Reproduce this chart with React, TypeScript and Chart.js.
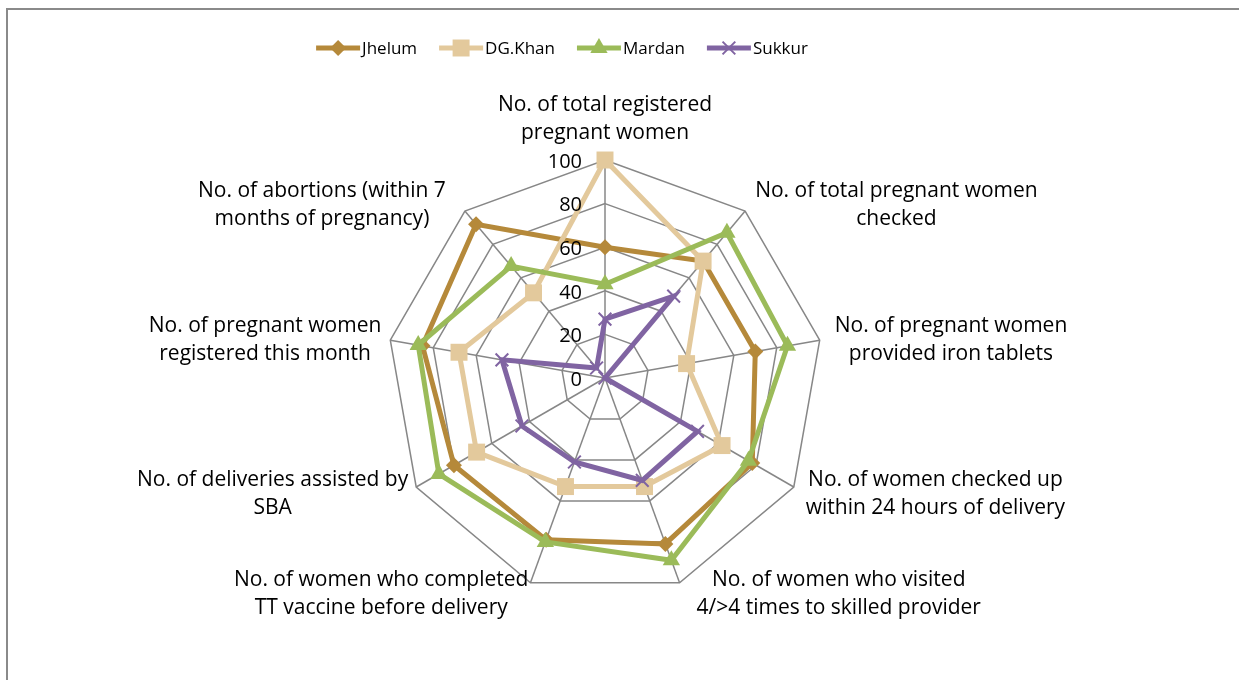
import React, { useEffect, useRef } from "react";
import { Chart, registerables } from "chart.js";

Chart.register(...registerables);

const categories: string[][] = [
  ["No. of total registered", "pregnant women"],
  ["No. of total pregnant women", "checked"],
  ["No. of pregnant women", "provided iron tablets"],
  ["No. of women checked up", "within 24 hours of delivery"],
  ["No. of women who visited", "4/>4 times to skilled provider"],
  ["No. of women who completed", "TT vaccine before delivery"],
  ["No. of deliveries assisted by", "SBA"],
  ["No. of pregnant women", "registered this month"],
  ["No. of abortions (within 7", "months of pregnancy)"],
];

const jhelum = [60, 70, 70, 78, 81, 79, 80, 85, 92];
const dgKhan = [100, 70, 38, 62, 53, 53, 68, 68, 51];
const mardan = [43, 87, 85, 76, 89, 80, 88, 87, 67];
const sukkur = [27, 49, 0, 49, 50, 41, 44, 48, 6];

const seriesNames = ["Jhelum", "DG.Khan", "Mardan", "Sukkur"];
const tickValues = [0, 20, 40, 60, 80, 100];

const colors = ["#B5893A", "#E3C99C", "#9BBB59", "#8064A2"];
const markers = ["rectRot", "rect", "triangle", "crossRot"];
const markerRadius = [8, 12, 10, 9];
// horizontal gap between each axis end and its label block (style only)
const labelGap = [0, 10, 15, 12, 17, 2, 8, 9, 19];
const FONT = "'Open Sans', Lato, sans-serif";
const LABEL_SIZE = 21;
const LEGEND_SIZE = 17;
const TICK_SIZE = 20;
const LINE_H = 28;
const SERIES_WIDTH = 5;

function drawMarker(ctx: CanvasRenderingContext2D, kind: string, x: number, y: number, r: number, color: string) {
  ctx.save();
  ctx.fillStyle = color;
  ctx.strokeStyle = color;
  ctx.beginPath();
  if (kind === "rectRot") {
    ctx.moveTo(x - r, y);
    ctx.lineTo(x, y - r);
    ctx.lineTo(x + r, y);
    ctx.lineTo(x, y + r);
    ctx.closePath();
    ctx.fill();
  } else if (kind === "rect") {
    const s = r * Math.SQRT1_2;
    ctx.rect(x - s, y - s, 2 * s, 2 * s);
    ctx.fill();
  } else if (kind === "triangle") {
    const a = -Math.PI / 2;
    for (let k = 0; k < 3; k++) {
      const ang = a + (k * 2 * Math.PI) / 3;
      const px = x + Math.cos(ang) * r;
      const py = y + Math.sin(ang) * r;
      if (k === 0) ctx.moveTo(px, py);
      else ctx.lineTo(px, py);
    }
    ctx.closePath();
    ctx.fill();
  } else {
    ctx.lineWidth = 2;
    const d = r * Math.SQRT1_2;
    ctx.moveTo(x - d, y - d);
    ctx.lineTo(x + d, y + d);
    ctx.moveTo(x + d, y - d);
    ctx.lineTo(x - d, y + d);
    ctx.stroke();
  }
  ctx.restore();
}

const decorPlugin = {
  id: "decor",
  beforeDraw(chart: any) {
    const ctx: CanvasRenderingContext2D = chart.ctx;
    ctx.save();
    ctx.fillStyle = "#ffffff";
    ctx.fillRect(0, 0, chart.width, chart.height);
    ctx.strokeStyle = "#8a8a8a";
    ctx.lineWidth = 2;
    ctx.beginPath();
    ctx.moveTo(7, chart.height);
    ctx.lineTo(7, 9);
    ctx.lineTo(chart.width, 9);
    ctx.stroke();
    ctx.restore();
  },
  afterDraw(chart: any) {
    const ctx: CanvasRenderingContext2D = chart.ctx;
    const scale = chart.scales.r;
    ctx.save();
    ctx.fillStyle = "#000000";

    // tick labels
    ctx.font = `${TICK_SIZE}px ${FONT}`;
    ctx.textAlign = "right";
    ctx.textBaseline = "middle";
    tickValues.forEach((v) => {
      const d = scale.getDistanceFromCenterForValue(v);
      ctx.fillText(String(v), scale.xCenter - 23, scale.yCenter - d + 2);
    });

    // point labels
    ctx.font = `${LABEL_SIZE}px ${FONT}`;
    ctx.textAlign = "center";
    categories.forEach((lines, i) => {
      const p = scale.getPointPosition(i, scale.drawingArea);
      const c = Math.cos(p.angle);
      const s = Math.sin(p.angle);
      const w = Math.max(...lines.map((l) => ctx.measureText(l).width));
      const h = lines.length * LINE_H;
      let cx = p.x;
      let cy = p.y;
      const dy = 9 * s + (s > 0 ? 3 : 1);
      if (Math.abs(c) < 0.05) {
        cy = s < 0 ? p.y - h / 2 - 13 : p.y + h / 2 + 13;
      } else if (c > 0) {
        cx = p.x + labelGap[i] + w / 2;
        cy = p.y + dy;
      } else {
        cx = p.x - labelGap[i] - w / 2;
        cy = p.y + dy;
      }
      lines.forEach((l, k) => {
        ctx.fillText(l, cx, cy - h / 2 + LINE_H * (k + 0.5));
      });
    });

    // legend
    ctx.font = `${LEGEND_SIZE}px ${FONT}`;
    ctx.textAlign = "left";
    const lineLen = 44;
    const textGap = 2;
    const itemGap = 22;
    const widths = seriesNames.map((n) => lineLen + textGap + ctx.measureText(n).width);
    const total = widths.reduce((a, b) => a + b, 0) + itemGap * (seriesNames.length - 1);
    let x = 562 - total / 2;
    const y = 48;
    seriesNames.forEach((n, i) => {
      ctx.strokeStyle = colors[i];
      ctx.lineWidth = SERIES_WIDTH;
      ctx.beginPath();
      ctx.moveTo(x, y);
      ctx.lineTo(x + lineLen, y);
      ctx.stroke();
      drawMarker(ctx, markers[i], x + lineLen / 2, y, markerRadius[i], colors[i]);
      ctx.fillStyle = "#000000";
      ctx.fillText(n, x + lineLen + textGap, y + 1);
      x += widths[i] + itemGap;
    });
    ctx.restore();
  },
};

export default function App() {
  const ref = useRef<HTMLCanvasElement | null>(null);
  useEffect(() => {
    if (!ref.current) return;
    const series = [jhelum, dgKhan, mardan, sukkur];
    const chart = new Chart(ref.current, {
      type: "radar",
      data: {
        labels: categories,
        datasets: series.map((d, i) => ({
          label: seriesNames[i],
          data: d,
          borderColor: colors[i],
          backgroundColor: colors[i],
          pointBackgroundColor: colors[i],
          pointBorderColor: colors[i],
          pointStyle: markers[i] as any,
          pointRadius: markerRadius[i],
          pointBorderWidth: i === 3 ? 2 : 0,
          borderWidth: SERIES_WIDTH,
          fill: false,
          order: 3 - i,
        })),
      },
      options: {
        responsive: false,
        animation: false,
        devicePixelRatio: 1,
        layout: { padding: { left: 387, right: 416, top: 160, bottom: 84 } },
        plugins: { legend: { display: false }, tooltip: { enabled: false } },
        elements: { line: { tension: 0 } },
        scales: {
          r: {
            min: 0,
            max: 100,
            ticks: { stepSize: 20, display: false },
            grid: { color: "#878787", lineWidth: 1.5 },
            angleLines: { color: "#878787", lineWidth: 1.5 },
            pointLabels: { display: false },
          },
        },
      },
      plugins: [decorPlugin],
    });
    return () => chart.destroy();
  }, []);
  return (
    <div style={{ position: "absolute", left: 0, top: 0, width: 1239, height: 680 }}>
      <canvas ref={ref} width={1239} height={680} style={{ display: "block" }} />
    </div>
  );
}
